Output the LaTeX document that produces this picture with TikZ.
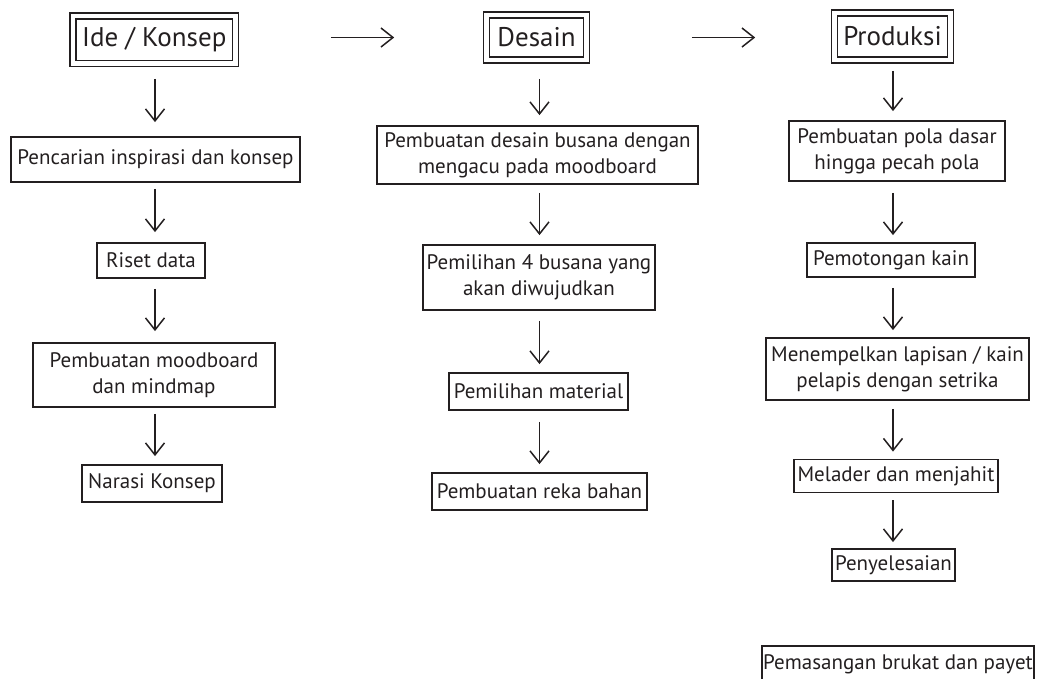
\documentclass[tikz,border=0pt]{standalone}
\usepackage{fontspec}
\setmainfont{PT Sans}
\usetikzlibrary{arrows.meta}
\definecolor{ink}{HTML}{231F20}
\tikzset{
  box/.style={draw=ink, text=ink, line width=1.8pt, inner sep=0pt, align=center,
              font=\fontsize{21}{26}\selectfont},
  header/.style={draw=ink, text=ink, line width=1.6pt, double=white, double distance=4.4pt,
                 inner sep=0pt, align=center, font=\fontsize{27}{32}\selectfont},
  arr/.style={draw=ink, line width=1.5pt,
              -{Straight Barb[length=12pt,width=19pt,line width=1.5pt]}},
}
\begin{document}
\begin{tikzpicture}[x=1pt,y=-1pt]
\useasboundingbox (0,0) rectangle (1041,678);
\clip (0,0) rectangle (1041,678);

% column guides
\coordinate (colA) at (155,0);
\coordinate (colB) at (539.5,0);
\coordinate (colC) at (893,0);

% headers
\node[header, minimum width=162.5pt, minimum height=47.5pt] (h1) at (154.25,39.75) {Ide / Konsep};
\node[header, minimum width=100pt, minimum height=45pt] (h2) at (536.5,37.5) {Desain};
\node[header, minimum width=116pt, minimum height=47pt] (h3) at (892.5,36.5) {Produksi};

% column 1
\node[box, minimum width=289pt, minimum height=45pt] (a1) at (155.5,159.5) {Pencarian inspirasi dan konsep};
\node[box, minimum width=108pt, minimum height=35pt] (a2) at (151,260.5) {Riset data};
\node[box, minimum width=242pt, minimum height=64pt] (a3) at (154,375) {Pembuatan moodboard\\dan mindmap};
\node[box, minimum width=140pt, minimum height=37pt] (a4) at (152,483.5) {Narasi Konsep};

% column 2
\node[box, minimum width=321pt, minimum height=58pt] (b1) at (537.5,155) {Pembuatan desain busana dengan\\mengacu pada moodboard};
\node[box, minimum width=232pt, minimum height=65pt] (b2) at (539,277.5) {Pemilihan 4 busana yang\\akan diwujudkan};
\node[box, minimum width=179pt, minimum height=37pt] (b3) at (538.5,391.5) {Pemilihan material};
\node[box, minimum width=215pt, minimum height=37pt] (b4) at (539.5,491.5) {Pembuatan reka bahan};

% column 3
\node[box, minimum width=216pt, minimum height=60pt] (c1) at (897,151) {Pembuatan pola dasar\\hingga pecah pola};
\node[box, minimum width=168pt, minimum height=34pt] (c2) at (891,260) {Pemotongan kain};
\node[box, minimum width=263pt, minimum height=62pt] (c3) at (897.5,369) {Menempelkan lapisan / kain\\pelapis dengan setrika};
\node[box, minimum width=204pt, minimum height=33pt] (c4) at (896,476) {Melader dan menjahit};
\node[box, minimum width=123pt, minimum height=32pt] (c5) at (893.5,565) {Penyelesaian};
\node[box, minimum width=272pt, minimum height=36pt] (c6) at (898,664) {Pemasangan brukat dan payet};

% horizontal arrows
\draw[arr, shorten <=94.5pt, shorten >=91.5pt] (h1.east |- h2.west) -- (h2.west);
\draw[arr, shorten <=104.5pt, shorten >=78.5pt] (h2.east) -- (h3.west |- h2.east);

% column 1 arrows
\draw[arr, shorten <=14.5pt, shorten >=14pt] (h1.south -| colA) -- (a1.north -| colA);
\draw[arr, shorten <=6pt, shorten >=10pt] (a1.south -| colA) -- (a2.north -| colA);
\draw[arr, shorten <=10pt, shorten >=11pt] (a2.south -| colA) -- (a3.north -| colA);
\draw[arr, shorten <=6pt, shorten >=8pt] (a3.south -| colA) -- (a4.north -| colA);

% column 2 arrows
\draw[arr, shorten <=18pt, shorten >=10pt] (h2.south -| colB) -- (b1.north -| colB);
\draw[arr, shorten <=8pt, shorten >=9pt] (b1.south -| colB) -- (b2.north -| colB);
\draw[arr, shorten <=10pt, shorten >=8pt] (b2.south -| colB) -- (b3.north -| colB);
\draw[arr, shorten <=11pt, shorten >=8pt] (b3.south -| colB) -- (b4.north -| colB);

% column 3 arrows
\draw[arr, shorten <=10pt, shorten >=9pt] (h3.south -| colC) -- (c1.north -| colC);
\draw[arr, shorten <=11pt, shorten >=7pt] (c1.south -| colC) -- (c2.north -| colC);
\draw[arr, shorten <=10pt, shorten >=7pt] (c2.south -| colC) -- (c3.north -| colC);
\draw[arr, shorten <=8pt, shorten >=7pt] (c3.south -| colC) -- (c4.north -| colC);
\draw[arr, shorten <=7pt, shorten >=6pt] (c4.south -| colC) -- (c5.north -| colC);
\end{tikzpicture}
\end{document}
